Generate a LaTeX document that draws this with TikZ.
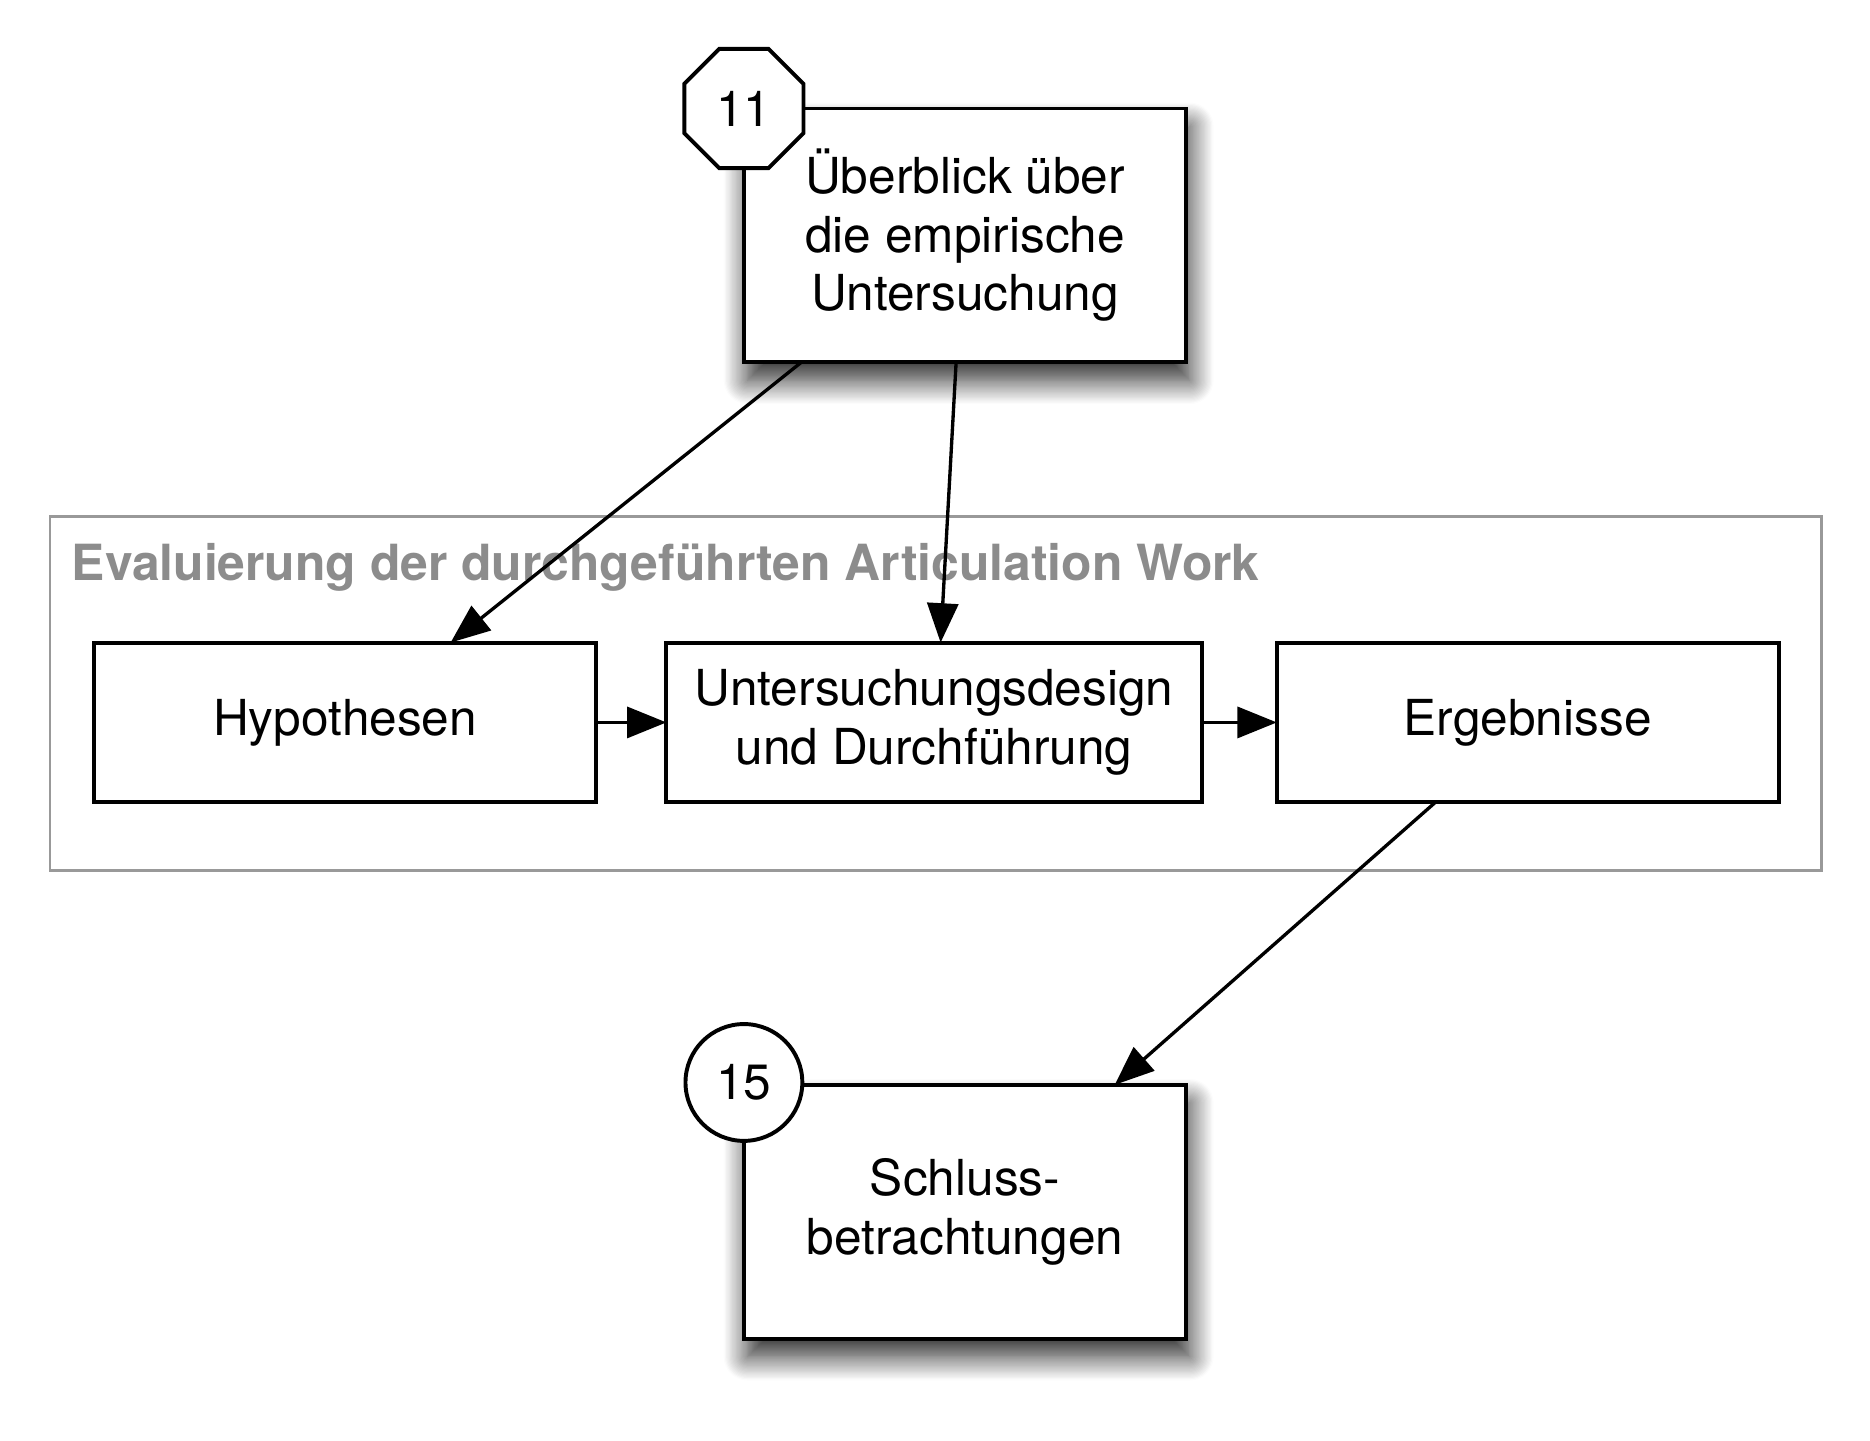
\documentclass[tikz,border=0pt]{standalone}
\usepackage{fontspec}
\setmainfont{TeX Gyre Heros}
\usetikzlibrary{shapes.geometric,arrows.meta,shadows.blur}
\definecolor{grpgray}{HTML}{8C8C8C}
\definecolor{grpline}{HTML}{999999}
\tikzset{
  x=1pt,y=-1pt,
  txt/.style={font=\fontsize{41.6}{49}\selectfont, align=center},
  bigbox/.style={draw=black, line width=3.3pt, fill=white, rectangle, inner sep=0pt, outer sep=0pt,
    minimum width=371pt, minimum height=213pt, txt,
    blur shadow={shadow xshift=3pt, shadow yshift=-15pt, shadow blur radius=20pt, shadow blur steps=20, shadow opacity=85}},
  stepbox/.style={draw=black, line width=3.3pt, fill=white, rectangle, inner sep=0pt, outer sep=0pt,
    minimum height=134pt, txt},
  octo/.style={draw=black, line width=3.3pt, fill=white, regular polygon, regular polygon sides=8,
    minimum size=108.2pt, inner sep=0pt, outer sep=0pt, txt},
  roundmark/.style={draw=black, line width=3.3pt, fill=white, circle,
    minimum size=98pt, inner sep=0pt, outer sep=0pt, txt},
  groupbox/.style={draw=grpline, line width=2.3pt, rectangle, inner sep=0pt, outer sep=0pt,
    minimum width=1486pt, minimum height=297pt},
  grouptitle/.style={font=\fontsize{41.8}{49}\selectfont\bfseries, text=grpgray, inner sep=0pt},
  conn/.style={draw=black, line width=2.8pt, -{Triangle[length=33pt,width=26pt]}}
}
\begin{document}
\begin{tikzpicture}
\useasboundingbox (0,0) rectangle (1568.6,1208.6);
% group
\node[groupbox] (grp) at (785,581.5) {};
\node[grouptitle, anchor=base west] (grptitle) at (60,487) {Evaluierung der durchgeführten Articulation Work};
% boxes
\node[bigbox] (top) at (809.5,197.5) {Überblick über\\die empirische\\Untersuchung};
\node[octo] (n11) at (624,91) {11};
\node[stepbox, minimum width=421pt] (hyp) at (289.5,606) {Hypothesen};
\node[stepbox, minimum width=449pt] (uds) at (783.5,606) {Untersuchungsdesign\\und Durchführung};
\node[stepbox, minimum width=421pt] (erg) at (1281.5,606) {Ergebnisse};
\node[bigbox] (bot) at (809.5,1016.5) {Schluss-\\betrachtungen};
\node[roundmark] (n15) at (624,908) {15};
% connectors
\draw[conn] ([xshift=48pt]top.south west) -- ([xshift=299pt]hyp.north west);
\draw[conn] ([xshift=178pt]top.south west) -- ([xshift=230pt]uds.north west);
\draw[conn] (hyp.east) -- (uds.west);
\draw[conn] (uds.east) -- (erg.west);
\draw[conn] ([xshift=133pt]erg.south west) -- ([xshift=311pt]bot.north west);
\end{tikzpicture}
\end{document}
